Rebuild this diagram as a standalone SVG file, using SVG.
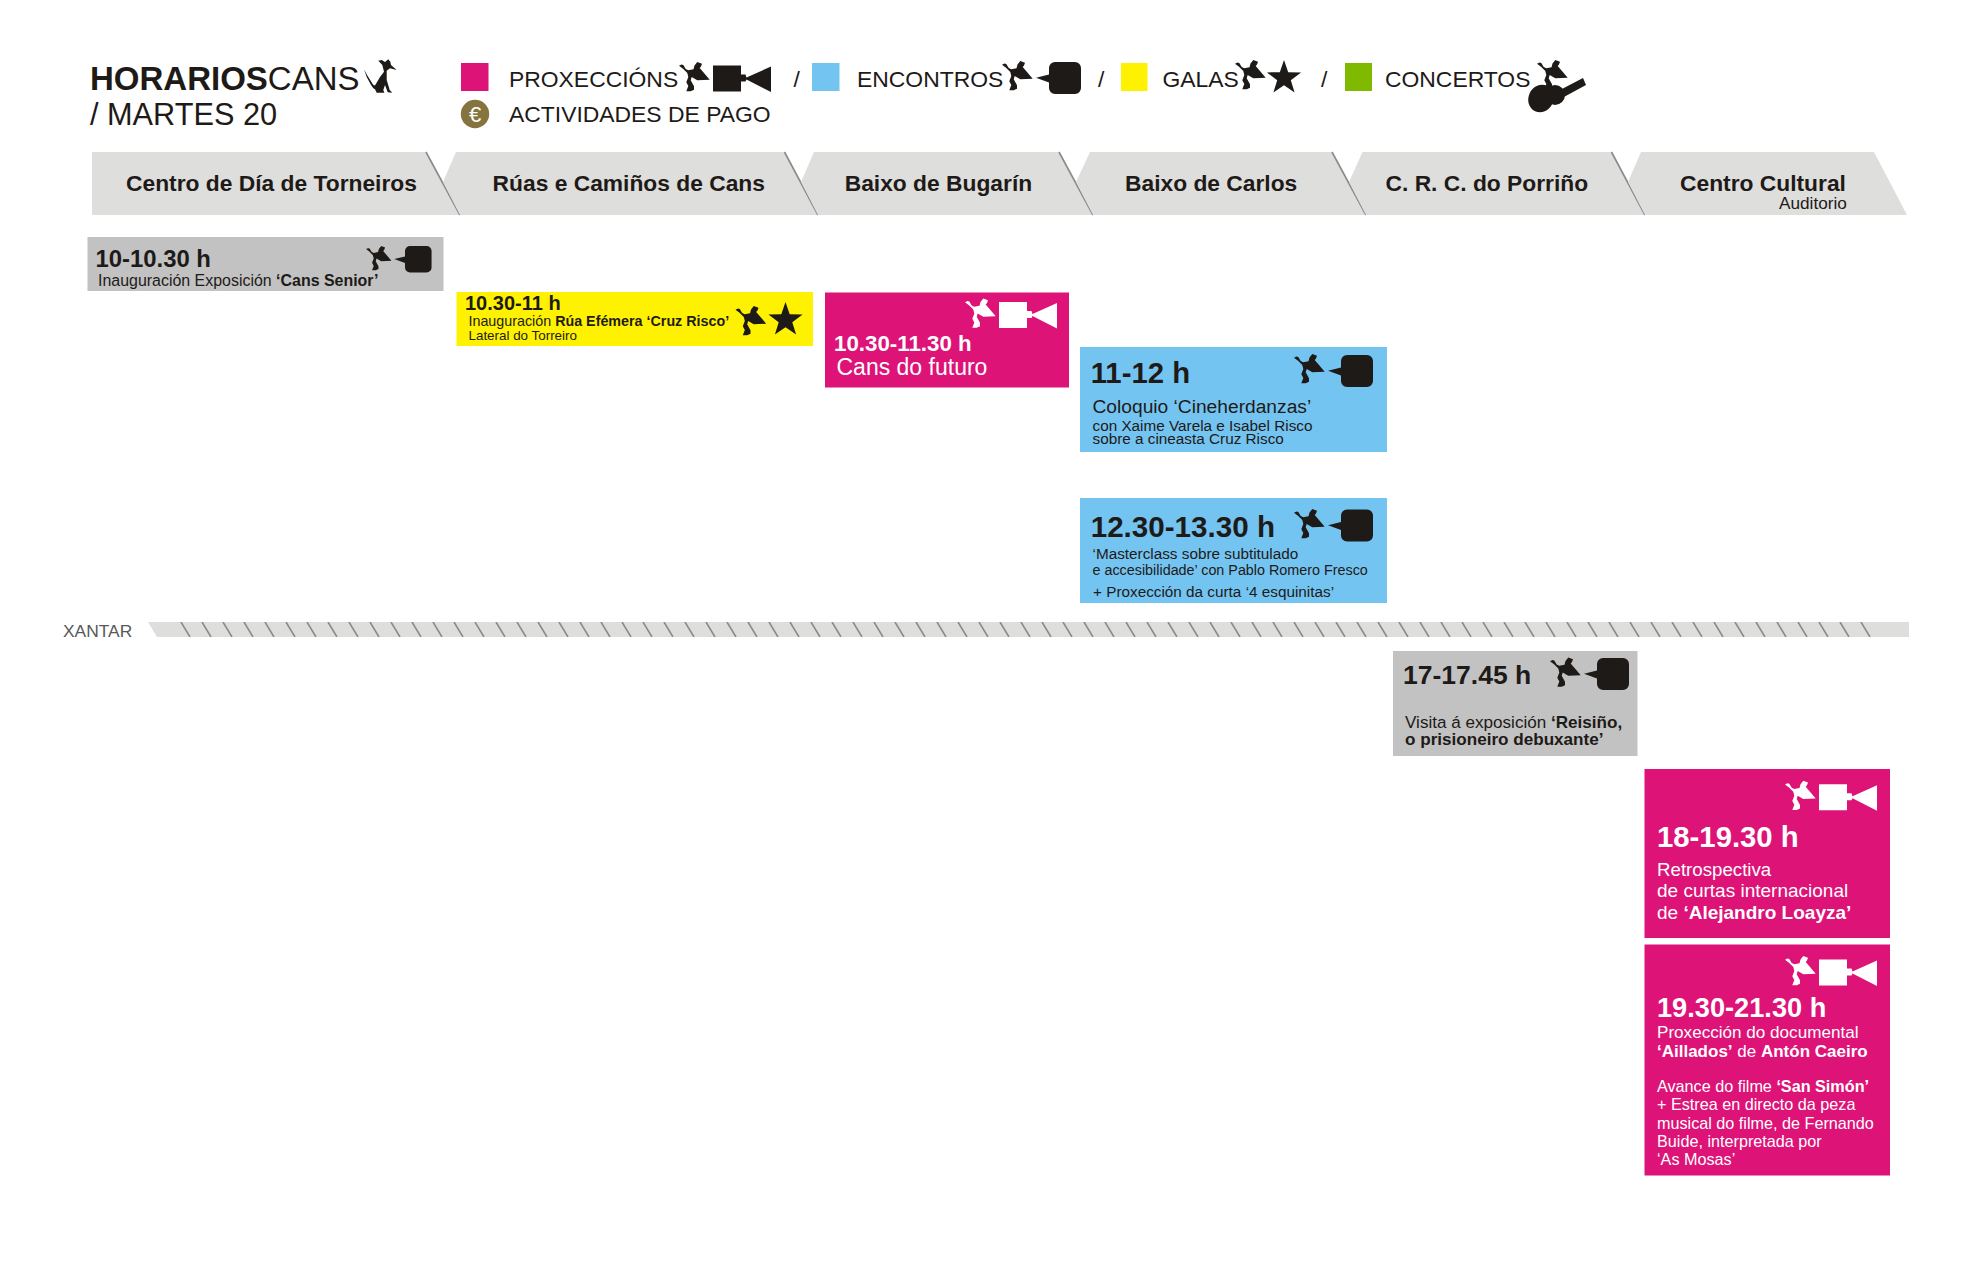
<svg xmlns="http://www.w3.org/2000/svg" width="1984" height="1278" viewBox="0 0 1984 1278">
<style>
text{font-family:"Liberation Sans",Arial,sans-serif;fill:#1e1a17}
.b{font-weight:700}
.w text,.w tspan{fill:#fff}
.tab{fill:#dededd}
.div{stroke:#8a8a8a;stroke-width:1.6;fill:none}
.tt{font-size:22.8px;font-weight:700}
.lg{font-size:22.9px}
.pink{fill:#dd1378}.blue{fill:#74c4f2}.gray{fill:#c2c2c2}.yellow{fill:#fff200}.green{fill:#7fba00}
.ink{fill:#1e1a17}.white{fill:#fff}
</style>
<defs>
<path id="bird" d="M0 3.700L2.500 2.600L4.300 3L6.700 7L9.300 8.300L14.500 7.300L15.500 3.500L18.300 0L23 1.700L22 4.500L20.700 6L25 11L30.700 17.700L18.300 18.300L12.700 15L11.700 18.300L15 24.300L15 27.700L11.700 29.300L7.300 29.300L9.300 24L7.300 20.300L9.300 15L8.300 11L4 6.700Z"/>
<path id="cam" d="M34 3.500H62V12.500H66.500L67.500 15.500L92 4.500V30L67.500 17.500L66.500 19.500H62V29.500H34Z"/>
<path id="bub" d="M53 0H73A6 6 0 0 1 79 6V26A6 6 0 0 1 73 32H53A6 6 0 0 1 47 26V20.500L34 15.700L47 12.500V6A6 6 0 0 1 53 0Z"/>
<polygon id="star" points="0,-18 4.200,-5.800 17.100,-5.600 6.800,2.200 10.600,14.600 0,7.200 -10.600,14.600 -6.800,2.200 -17.100,-5.600 -4.200,-5.800"/>
<pattern id="hatch" patternUnits="userSpaceOnUse" x="180" y="622" width="21" height="15"><line x1="1" y1="0" x2="10" y2="15" stroke="#8a8a8a" stroke-width="1.6"/></pattern>
</defs>

<g id="title">
<text x="90" y="90" font-size="33"><tspan class="b">HORARIOS</tspan>CANS</text>
<text x="90" y="125" font-size="30.700">/ MARTES 20</text>
<path class="ink" d="M364 69.300L367 75L373.300 85L375 85.500L380 77L384 71.700L382.300 65L378.300 60.700L381.700 60L385 62L388.300 59.300L390.300 61.700L391 65L396.700 70L390 68.300L386.700 70.700L386.700 80L389.700 90L392.300 92.700L387.700 92.300L385 85L383.300 90L384.300 92.700L376.700 92.700L375 89.300L373.300 88.300L371 85L366.700 77Z"/>
</g>

<g id="legend">
<rect class="pink" x="461" y="63" width="27.500" height="28"/>
<text class="lg" x="509" y="87">PROXECCIÓNS</text>
<use class="ink" href="#bird" x="679" y="62"/><use class="ink" href="#cam" x="679" y="62"/>
<text class="lg" x="793.500" y="87">/</text>
<rect class="blue" x="812" y="63" width="27.500" height="28"/>
<text class="lg" x="857" y="87">ENCONTROS</text>
<use class="ink" href="#bird" x="1002" y="61"/><use class="ink" href="#bub" x="1002" y="62"/>
<text class="lg" x="1098" y="87">/</text>
<rect class="yellow" x="1121" y="63" width="26.500" height="28"/>
<text class="lg" x="1162.500" y="87">GALAS</text>
<use class="ink" href="#bird" x="1235" y="60"/><use class="ink" href="#star" x="1284" y="78"/>
<text class="lg" x="1321" y="87">/</text>
<rect class="green" x="1345" y="63" width="27" height="28"/>
<text class="lg" x="1385" y="87">CONCERTOS</text>
<g id="guitar" class="ink">
<use href="#bird" x="1537" y="60"/>
<ellipse cx="1541" cy="98.500" rx="12.500" ry="14" transform="rotate(25 1541 98.500)"/>
<circle cx="1555" cy="95" r="10"/>
<path d="M1560 90L1583 78L1586 85L1562 98Z"/>
</g>
<circle cx="475" cy="114" r="14.200" fill="#86743f"/>
<text x="475" y="122" font-size="22" text-anchor="middle" style="fill:#fff">€</text>
<text class="lg" x="509" y="122">ACTIVIDADES DE PAGO</text>
</g>

<g id="venues">
<g id="tab-torneiros"><polygon class="tab" points="92,152 426,152 460,215 92,215"/><line class="div" x1="426" y1="152" x2="460" y2="215"/><text class="tt" x="126" y="191">Centro de Día de Torneiros</text></g>
<g id="tab-ruas"><polygon class="tab" points="456,152 784.500,152 818,215 460,215 443,182"/><line class="div" x1="784.500" y1="152" x2="818" y2="215"/><text class="tt" x="492.600" y="191">Rúas e Camiños de Cans</text></g>
<g id="tab-bugarin"><polygon class="tab" points="814,152 1059,152 1093,215 818,215 801,182"/><line class="div" x1="1059" y1="152" x2="1093" y2="215"/><text class="tt" x="844.700" y="191">Baixo de Bugarín</text></g>
<g id="tab-carlos"><polygon class="tab" points="1090,152 1332,152 1366,215 1093,215 1076,182"/><line class="div" x1="1332" y1="152" x2="1366" y2="215"/><text class="tt" x="1125" y="191">Baixo de Carlos</text></g>
<g id="tab-crc"><polygon class="tab" points="1362.500,152 1611.500,152 1645,215 1366,215 1349,182"/><line class="div" x1="1611.500" y1="152" x2="1645" y2="215"/><text class="tt" x="1385.500" y="191">C. R. C. do Porriño</text></g>
<g id="tab-cultural"><polygon class="tab" points="1641,152 1874,152 1907,215 1645,215 1628,182"/><text class="tt" x="1680" y="191">Centro Cultural</text><text x="1779" y="208.700" font-size="17.200">Auditorio</text></g>
</g>

<g id="xantar">
<text x="63" y="637" font-size="17.400" style="fill:#58585a">XANTAR</text>
<polygon class="tab" points="148,622 1909,622 1909,637 157,637"/>
<rect x="180" y="622" width="1701" height="15" fill="url(#hatch)"/>
</g>

<g id="ev-1000">
<rect class="gray" x="87.500" y="237" width="356" height="54"/>
<text class="b" x="95.400" y="267" font-size="23.900">10-10.30 h</text>
<text x="98" y="286" font-size="15.950">Inauguración Exposición <tspan class="b">‘Cans Senior’</tspan></text>
<g class="ink" transform="translate(366 246) scale(.83)"><use href="#bird"/><use href="#bub"/></g>
</g>

<g id="ev-1030-ruas">
<rect class="yellow" x="456.500" y="292" width="356.500" height="54"/>
<text class="b" x="465" y="310" font-size="20">10.30-11 h</text>
<text x="468.500" y="326" font-size="14.300">Inauguración <tspan class="b">Rúa Efémera ‘Cruz Risco’</tspan></text>
<text x="468.500" y="339.700" font-size="13.400">Lateral do Torreiro</text>
<use class="ink" href="#bird" x="735.500" y="306"/><use class="ink" href="#star" x="785.500" y="320"/>
</g>

<g id="ev-1030-bugarin" class="w">
<rect class="pink" x="825" y="292.500" width="244" height="95"/>
<text class="b" x="834" y="350.500" font-size="22.300">10.30-11.30 h</text>
<text x="836.500" y="374.500" font-size="23">Cans do futuro</text>
<use class="white" href="#bird" x="965" y="298.500"/><use class="white" href="#cam" x="965" y="298.500"/>
</g>

<g id="ev-1100">
<rect class="blue" x="1080" y="347" width="307" height="105"/>
<text class="b" x="1090.700" y="382.700" font-size="29.300">11-12 h</text>
<text x="1092.500" y="412.700" font-size="19.200">Coloquio ‘Cineherdanzas’</text>
<text x="1092.500" y="430.700" font-size="15.300">con Xaime Varela e Isabel Risco</text>
<text x="1092.500" y="444.300" font-size="15.300">sobre a cineasta Cruz Risco</text>
<use class="ink" href="#bird" x="1294" y="354"/><use class="ink" href="#bub" x="1294" y="355"/>
</g>

<g id="ev-1230">
<rect class="blue" x="1080" y="498" width="307" height="105"/>
<text class="b" x="1090.700" y="537.300" font-size="29.600">12.30-13.30 h</text>
<text x="1092.500" y="559" font-size="15.300">‘Masterclass sobre subtitulado</text>
<text x="1092.500" y="574.700" font-size="14.350">e accesibilidade’ con Pablo Romero Fresco</text>
<text x="1093" y="596.700" font-size="15.300">+ Proxección da curta ‘4 esquinitas’</text>
<use class="ink" href="#bird" x="1294" y="509"/><use class="ink" href="#bub" x="1294" y="509.500"/>
</g>

<g id="ev-1700">
<rect class="gray" x="1393" y="651" width="244.500" height="105"/>
<text class="b" x="1403" y="684" font-size="26.500">17-17.45 h</text>
<text x="1405" y="728" font-size="17.100">Visita á exposición <tspan class="b">‘Reisiño,</tspan></text>
<text class="b" x="1405" y="744.700" font-size="17.100">o prisioneiro debuxante’</text>
<use class="ink" href="#bird" x="1550" y="657.500"/><use class="ink" href="#bub" x="1550" y="658"/>
</g>

<g id="ev-1800" class="w">
<rect class="pink" x="1644.500" y="769" width="245.500" height="169"/>
<text class="b" x="1657" y="846.700" font-size="29.300">18-19.30 h</text>
<text x="1657" y="876" font-size="18.700">Retrospectiva</text>
<text x="1657" y="897" font-size="19">de curtas internacional</text>
<text x="1657" y="918.700" font-size="19">de <tspan class="b">‘Alejandro Loayza’</tspan></text>
<use class="white" href="#bird" x="1785" y="780.700"/><use class="white" href="#cam" x="1785" y="780.700"/>
</g>

<g id="ev-1930" class="w">
<rect class="pink" x="1644.500" y="944.500" width="245.500" height="231"/>
<text class="b" x="1657" y="1017.300" font-size="27.200">19.30-21.30 h</text>
<text x="1657" y="1037.700" font-size="17.100">Proxección do documental</text>
<text x="1657" y="1056.700" font-size="17"><tspan class="b">‘Aillados’</tspan> de <tspan class="b">Antón Caeiro</tspan></text>
<text x="1657" y="1092.300" font-size="16.200">Avance do filme <tspan class="b">‘San Simón’</tspan></text>
<text x="1657" y="1110" font-size="16.200">+ Estrea en directo da peza</text>
<text x="1657" y="1128.700" font-size="16.200">musical do filme, de Fernando</text>
<text x="1657" y="1146.700" font-size="16.200">Buide, interpretada por</text>
<text x="1657" y="1164.700" font-size="16.200">‘As Mosas’</text>
<use class="white" href="#bird" x="1785" y="956"/><use class="white" href="#cam" x="1785" y="956"/>
</g>
</svg>
